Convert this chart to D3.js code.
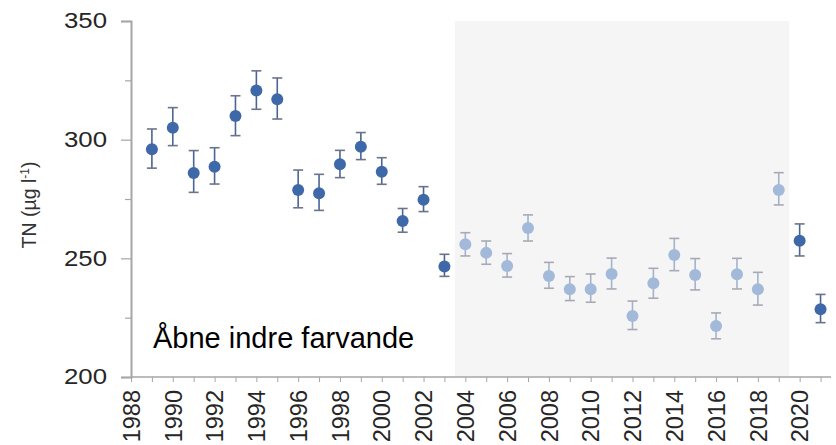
<!DOCTYPE html>
<html>
<head>
<meta charset="utf-8">
<script src="https://cdn.jsdelivr.net/npm/d3@7"></script>
<style>
html,body{margin:0;padding:0;background:#fff;}
svg{display:block;font-family:Arial,"Liberation Sans",sans-serif;}
</style>
</head>
<body>
<svg id="chart" width="836" height="445"></svg>
<script>
const years = [1989,1990,1991,1992,1993,1994,1995,1996,1997,1998,1999,2000,2001,2002,2003,2004,2005,2006,2007,2008,2009,2010,2011,2012,2013,2014,2015,2016,2017,2018,2019,2020,2021];
const means = [296,305,286,288.6,310,320.7,317,278.8,277.4,289.6,297,286.5,265.7,274.7,246.6,255.9,252.3,246.8,262.8,242.6,237,237,243.4,225.7,239.5,251.4,243,221.5,243.3,237,278.8,257.4,228.5];
const upper = [304.5,313.5,295.4,296.6,318.5,329,326,287.2,285.4,295.5,303,292.4,271,280.2,251.7,260.8,257.3,252,268.3,248.3,242.3,243.4,250.1,232,245.8,258.4,249.9,227,250,244.1,286.1,264.5,234.8];
const lower = [288,297.5,277.8,281.3,301.7,312.8,308.7,271.3,270.2,284,291.6,281.2,261,269.7,242.4,251,247.5,242.1,257.3,237.4,232.2,231.5,237.1,220,233.2,244.8,236.7,216.1,237.1,230.3,272.5,251,222.9];
const highlighted = [0,0,0,0,0,0,0,0,0,0,0,0,0,0,0,1,1,1,1,1,1,1,1,1,1,1,1,1,1,1,1,0,0];
const shadedPeriod = [2003.5, 2019.5];
const yTicks = [200,250,300,350];
const yMinorTicks = [225,275,325];
const xTickLabels = [1988,1990,1992,1994,1996,1998,2000,2002,2004,2006,2008,2010,2012,2014,2016,2018,2020];
const yLabel = "TN (µg l";
const areaLabel = "Åbne indre farvande";

const svg = d3.select("#chart");
const x = d3.scaleLinear().domain([1988, 2021.5]).range([131, 831]);
const y = d3.scaleLinear().domain([200, 350]).range([377, 21]);

// shaded period
svg.append("rect")
  .attr("x", x(shadedPeriod[0]))
  .attr("y", y(350))
  .attr("width", x(shadedPeriod[1]) - x(shadedPeriod[0]))
  .attr("height", y(200) - y(350))
  .attr("fill", "#f5f5f5");

// y axis
const yAxis = svg.append("g").attr("transform", `translate(${x(1988)},0)`)
  .call(d3.axisLeft(y).tickValues(yTicks).tickSize(10).tickFormat(d3.format("d")));
yAxis.select(".domain").attr("stroke", "#a6a6a6").attr("stroke-width", 2);
yAxis.selectAll(".tick line").attr("stroke", "#a6a6a6").attr("stroke-width", 1.2);
yAxis.selectAll(".tick text")
  .attr("font-size", 21.5).attr("fill", "#262626")
  .attr("x", 0).attr("text-anchor", "end")
  .attr("transform", "translate(-24,0) scale(1.2,1)")
  .attr("font-family", "Arial, 'Liberation Sans', sans-serif");
const yMinor = svg.append("g").attr("transform", `translate(${x(1988)},0)`)
  .call(d3.axisLeft(y).tickValues(yMinorTicks).tickSize(6).tickFormat(""));
yMinor.select(".domain").remove();
yMinor.selectAll(".tick line").attr("stroke", "#a6a6a6").attr("stroke-width", 1.2);

// x axis
const allYears = d3.range(1988, 2022);
const xAxis = svg.append("g").attr("transform", `translate(0,${y(200)})`)
  .call(d3.axisBottom(x).tickValues(allYears).tickSize(5)
    .tickFormat(d => xTickLabels.includes(d) ? d : ""));
xAxis.select(".domain").attr("stroke", "#a6a6a6").attr("stroke-width", 1.5).attr("d", `M${x(1988)},0H${x(2021.5)}`);
xAxis.selectAll(".tick line").attr("stroke", "#a6a6a6").attr("stroke-width", 1);
xAxis.selectAll(".tick text")
  .attr("font-size", 23.5).attr("fill", "#262626")
  .attr("font-family", "Arial, 'Liberation Sans', sans-serif")
  .attr("text-anchor", "end")
  .attr("transform", "rotate(-90)")
  .attr("x", -13).attr("y", 0).attr("dy", "0.35em");

// y axis label
const yl = svg.append("text")
  .attr("transform", `translate(36,205) rotate(-90)`)
  .attr("text-anchor", "middle")
  .attr("font-size", 19.5).attr("fill", "#333");
yl.append("tspan").text(yLabel);
yl.append("tspan").attr("baseline-shift", "super").attr("font-size", 12).text("-1");
yl.append("tspan").text(")");

// area label
svg.append("text")
  .attr("x", 153).attr("y", 348)
  .attr("font-size", 29).attr("fill", "#000")
  .text(areaLabel);

// data
const data = years.map((yr, i) => ({yr, m: means[i], hi: upper[i], lo: lower[i], light: highlighted[i] === 1}));
const g = svg.append("g");
const pts = g.selectAll("g.pt").data(data).join("g").attr("class", "pt");
pts.append("line")
  .attr("x1", d => x(d.yr)).attr("x2", d => x(d.yr))
  .attr("y1", d => y(d.hi)).attr("y2", d => y(d.lo))
  .attr("stroke", d => d.light ? "#a4b3cc" : "#4a6594").attr("stroke-width", 1.6);
pts.append("line")
  .attr("x1", d => x(d.yr) - 5).attr("x2", d => x(d.yr) + 5)
  .attr("y1", d => y(d.hi)).attr("y2", d => y(d.hi))
  .attr("stroke", d => d.light ? "#a9a9b4" : "#6d7489").attr("stroke-width", 1.6);
pts.append("line")
  .attr("x1", d => x(d.yr) - 5).attr("x2", d => x(d.yr) + 5)
  .attr("y1", d => y(d.lo)).attr("y2", d => y(d.lo))
  .attr("stroke", d => d.light ? "#a9a9b4" : "#6d7489").attr("stroke-width", 1.6);
pts.append("circle")
  .attr("cx", d => x(d.yr)).attr("cy", d => y(d.m)).attr("r", 6)
  .attr("fill", d => d.light ? "#a3b9d9" : "#3f68a9");
</script>
</body>
</html>
